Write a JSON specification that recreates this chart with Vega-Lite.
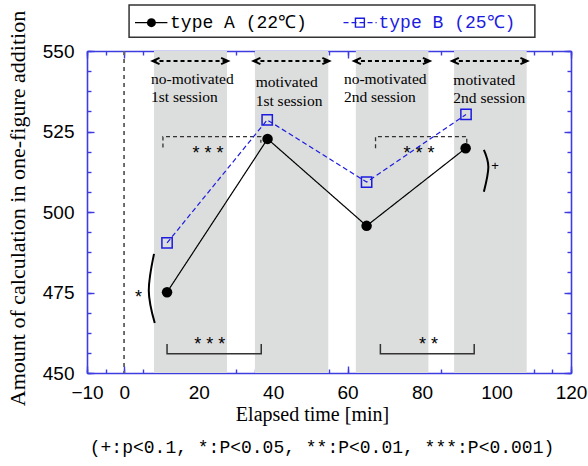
{
  "$schema": "https://vega.github.io/schema/vega-lite/v6.json",
  "width": 484,
  "height": 322,
  "autosize": {"type": "none"},
  "padding": {"left": 87, "top": 51, "right": 17, "bottom": 93},
  "background": "white",
  "config": {
    "view": {"stroke": null},
    "axis": {"grid": false, "zindex": 1, "domainColor": "#3c3ce0", "domainWidth": 1.6, "tickColor": "#3c3ce0", "tickWidth": 1.4}
  },
  "title": {
    "text": "(+:p<0.1, *:P<0.05, **:P<0.01, ***:P<0.001)",
    "orient": "bottom",
    "font": "Liberation Mono",
    "fontSize": 18,
    "fontWeight": "normal",
    "color": "black",
    "anchor": "middle",
    "frame": "group",
    "dx": -7,
    "offset": 15
  },
  "datasets": {
    "bands": [
      {"start": 8.0, "end": 27.6},
      {"start": 35.1, "end": 54.8},
      {"start": 62.2, "end": 81.7},
      {"start": 88.6, "end": 108.1}
    ],
    "sessionLabels": [
      {"x": 7.2, "y": 541.3, "text": "no-motivated"},
      {"x": 7.2, "y": 535.6, "text": "1st session"},
      {"x": 35.3, "y": 540.5, "text": "motivated"},
      {"x": 35.3, "y": 534.6, "text": "1st session"},
      {"x": 59.0, "y": 541.3, "text": "no-motivated"},
      {"x": 59.0, "y": 535.6, "text": "2nd session"},
      {"x": 88.4, "y": 541.0, "text": "motivated"},
      {"x": 88.4, "y": 535.3, "text": "2nd session"}
    ],
    "arrows": [
      {"start": 7.6, "end": 27.9, "y": 546.9},
      {"start": 34.7, "end": 55.1, "y": 546.9},
      {"start": 61.7, "end": 82.1, "y": 546.9},
      {"start": 88.0, "end": 108.3, "y": 546.9}
    ],
    "series": [
      {"series": "A", "t": 11.5, "v": 475.1},
      {"series": "A", "t": 38.5, "v": 522.7},
      {"series": "A", "t": 65.1, "v": 495.7},
      {"series": "A", "t": 91.7, "v": 519.8},
      {"series": "B", "t": 11.5, "v": 490.4},
      {"series": "B", "t": 38.4, "v": 528.6},
      {"series": "B", "t": 65.1, "v": 509.3},
      {"series": "B", "t": 91.8, "v": 530.3}
    ],
    "sigTop": [
      {"g": 1, "o": 1, "x": 10.4, "y": 520.0},
      {"g": 1, "o": 2, "x": 10.4, "y": 523.4},
      {"g": 1, "o": 3, "x": 36.7, "y": 523.4},
      {"g": 1, "o": 4, "x": 36.7, "y": 521.5},
      {"g": 2, "o": 1, "x": 67.5, "y": 519.8},
      {"g": 2, "o": 2, "x": 67.5, "y": 523.4},
      {"g": 2, "o": 3, "x": 92.0, "y": 523.4},
      {"g": 2, "o": 4, "x": 92.0, "y": 521.5}
    ],
    "sigBottom": [
      {"g": 1, "o": 1, "x": 11.5, "y": 459.0},
      {"g": 1, "o": 2, "x": 11.5, "y": 456.0},
      {"g": 1, "o": 3, "x": 36.8, "y": 456.0},
      {"g": 1, "o": 4, "x": 36.8, "y": 459.0},
      {"g": 2, "o": 1, "x": 68.8, "y": 459.0},
      {"g": 2, "o": 2, "x": 68.8, "y": 456.0},
      {"g": 2, "o": 3, "x": 94.0, "y": 456.0},
      {"g": 2, "o": 4, "x": 94.0, "y": 459.0}
    ],
    "arcs": [
      {"g": 1, "o": 1, "x": 8.0, "y": 487.0},
      {"g": 1, "o": 2, "x": 6.6, "y": 475.5},
      {"g": 1, "o": 3, "x": 8.2, "y": 465.5},
      {"g": 2, "o": 1, "x": 96.6, "y": 519.3},
      {"g": 2, "o": 2, "x": 97.8, "y": 514.0},
      {"g": 2, "o": 3, "x": 96.6, "y": 506.3}
    ],
    "sigText": [
      {"x": 22.5, "y": 519.6, "text": "* * *"},
      {"x": 79.2, "y": 519.6, "text": "* * *"},
      {"x": 23.0, "y": 460.2, "text": "* * *"},
      {"x": 81.7, "y": 460.2, "text": "* *"},
      {"x": 3.8, "y": 474.8, "text": "*"}
    ],
    "plusText": [
      {"x": 99.6, "y": 514.3, "text": "+"}
    ],
    "legendBox": [{"x1": 1.3, "x2": 110.3, "y1": 554.3, "y2": 564.3}],
    "legendItems": [
      {"series": "A", "l1": 2.9, "l2": 11.6, "m": 7.3, "tx": 12.3, "y": 558.8, "label": "type A (22℃)"},
      {"series": "B", "l1": 58.9, "l2": 67.8, "m": 63.3, "tx": 68.3, "y": 558.8, "label": "type B (25℃)"}
    ]
  },
  "resolve": {"axis": {"x": "independent", "y": "independent"}},
  "layer": [
    {
      "data": {"name": "bands"},
      "mark": {"type": "rect", "color": "#dcdddd"},
      "encoding": {
        "x": {
          "field": "start", "type": "quantitative",
          "scale": {"domain": [-10, 120], "nice": false, "zero": false},
          "axis": {
            "orient": "bottom", "values": [-10, 0, 20, 40, 60, 80, 100, 120],
            "tickSize": -7, "labelFont": "Liberation Sans", "labelFontSize": 19, "labelColor": "black",
            "labelPadding": 17, "labelFlush": false,
            "title": "Elapsed time [min]", "titleFont": "Liberation Serif", "titleFontSize": 20,
            "titleFontWeight": "normal", "titleColor": "black",
            "titleX": 225, "titleY": 41, "titleBaseline": "middle", "titleAlign": "center"
          }
        },
        "x2": {"field": "end"},
        "y": {
          "datum": 450, "type": "quantitative",
          "scale": {"domain": [450, 550], "nice": false, "zero": false},
          "axis": {
            "orient": "left", "values": [450, 475, 500, 525, 550],
            "tickSize": -7, "labelFont": "Liberation Sans", "labelFontSize": 19, "labelColor": "black",
            "labelPadding": 20, "labelFlush": false,
            "title": "Amount of calculation in one-figure addition", "titleFont": "Liberation Serif",
            "titleFontSize": 22, "titleFontWeight": "normal", "titleColor": "black",
            "titleX": -70, "titleY": 157, "titleBaseline": "middle", "titleAlign": "center", "titleAngle": -90
          }
        },
        "y2": {"datum": 550}
      }
    },
    {
      "data": {"name": "bands"},
      "mark": {"type": "rule", "color": "#666666", "strokeDash": [4, 4], "strokeWidth": 1.3},
      "encoding": {
        "x": {"datum": 0, "type": "quantitative", "axis": null}
      }
    },
    {
      "data": {"name": "arrows"},
      "mark": {"type": "rule", "color": "black", "strokeDash": [4, 3], "strokeWidth": 2},
      "encoding": {
        "x": {"field": "start", "type": "quantitative", "axis": null},
        "x2": {"field": "end"},
        "y": {"field": "y", "type": "quantitative", "axis": null}
      }
    },
    {
      "data": {"name": "arrows"},
      "mark": {"type": "point", "shape": "M2,-0.9L0,0L2,0.9", "filled": false, "color": "black", "strokeWidth": 2, "size": 49, "opacity": 1},
      "encoding": {
        "x": {"field": "start", "type": "quantitative", "axis": null},
        "y": {"field": "y", "type": "quantitative", "axis": null}
      }
    },
    {
      "data": {"name": "arrows"},
      "mark": {"type": "point", "shape": "M-2,-0.9L0,0L-2,0.9", "filled": false, "color": "black", "strokeWidth": 2, "size": 49, "opacity": 1},
      "encoding": {
        "x": {"field": "end", "type": "quantitative", "axis": null},
        "y": {"field": "y", "type": "quantitative", "axis": null}
      }
    },
    {
      "data": {"name": "sessionLabels"},
      "mark": {"type": "text", "font": "Liberation Serif", "fontSize": 15.5, "align": "left", "baseline": "middle", "color": "black"},
      "encoding": {
        "x": {"field": "x", "type": "quantitative", "axis": null},
        "y": {"field": "y", "type": "quantitative", "axis": null},
        "text": {"field": "text"}
      }
    },
    {
      "data": {"name": "sigTop"},
      "mark": {"type": "line", "color": "#333333", "strokeDash": [4, 3], "strokeWidth": 1.3},
      "encoding": {
        "x": {"field": "x", "type": "quantitative", "axis": null},
        "y": {"field": "y", "type": "quantitative", "axis": null},
        "detail": {"field": "g"},
        "order": {"field": "o"}
      }
    },
    {
      "data": {"name": "sigBottom"},
      "mark": {"type": "line", "color": "#333333", "strokeWidth": 1.5},
      "encoding": {
        "x": {"field": "x", "type": "quantitative", "axis": null},
        "y": {"field": "y", "type": "quantitative", "axis": null},
        "detail": {"field": "g"},
        "order": {"field": "o"}
      }
    },
    {
      "data": {"name": "arcs"},
      "mark": {"type": "line", "color": "black", "strokeWidth": 2, "interpolate": "natural"},
      "encoding": {
        "x": {"field": "x", "type": "quantitative", "axis": null},
        "y": {"field": "y", "type": "quantitative", "axis": null},
        "detail": {"field": "g"},
        "order": {"field": "o"}
      }
    },
    {
      "data": {"name": "sigText"},
      "mark": {"type": "text", "font": "Liberation Sans", "fontSize": 18, "align": "center", "baseline": "middle", "dy": 5, "color": "black"},
      "encoding": {
        "x": {"field": "x", "type": "quantitative", "axis": null},
        "y": {"field": "y", "type": "quantitative", "axis": null},
        "text": {"field": "text"}
      }
    },
    {
      "data": {"name": "plusText"},
      "mark": {"type": "text", "font": "Liberation Sans", "fontSize": 13, "align": "center", "baseline": "middle", "color": "black"},
      "encoding": {
        "x": {"field": "x", "type": "quantitative", "axis": null},
        "y": {"field": "y", "type": "quantitative", "axis": null},
        "text": {"field": "text"}
      }
    },
    {
      "data": {"name": "series"},
      "mark": {"type": "line", "strokeWidth": 1.2},
      "encoding": {
        "x": {
          "field": "t", "type": "quantitative",
          "axis": {"orient": "bottom", "values": [-10, -5, 0, 5, 10, 15, 20, 25, 30, 35, 40, 45, 50, 55, 60, 65, 70, 75, 80, 85, 90, 95, 100, 105, 110, 115, 120], "tickSize": -4, "labels": false, "domain": false, "title": null}
        },
        "y": {
          "field": "v", "type": "quantitative",
          "axis": {"orient": "left", "values": [450, 456.25, 462.5, 468.75, 475, 481.25, 487.5, 493.75, 500, 506.25, 512.5, 518.75, 525, 531.25, 537.5, 543.75, 550], "tickSize": -4, "labels": false, "domain": false, "title": null}
        },
        "color": {"field": "series", "type": "nominal", "scale": {"domain": ["A", "B"], "range": ["black", "#1c1ce0"]}, "legend": null},
        "strokeDash": {"field": "series", "type": "nominal", "scale": {"domain": ["A", "B"], "range": [[1, 0], [5, 3]]}, "legend": null}
      }
    },
    {
      "data": {"name": "series"},
      "transform": [{"filter": "datum.series == 'B'"}],
      "mark": {"type": "point", "shape": "square", "filled": false, "color": "#1c1ce0", "strokeWidth": 1.5, "size": 106, "opacity": 1},
      "encoding": {
        "x": {
          "field": "t", "type": "quantitative",
          "axis": {"orient": "top", "values": [-10, 0, 20, 40, 60, 80, 100, 120], "tickSize": -7, "labels": false, "title": null}
        },
        "y": {
          "field": "v", "type": "quantitative",
          "axis": {"orient": "right", "values": [450, 475, 500, 525, 550], "tickSize": -7, "labels": false, "title": null}
        }
      }
    },
    {
      "data": {"name": "series"},
      "transform": [{"filter": "datum.series == 'A'"}],
      "mark": {"type": "point", "shape": "circle", "filled": true, "color": "black", "size": 110, "opacity": 1},
      "encoding": {
        "x": {
          "field": "t", "type": "quantitative",
          "axis": {"orient": "top", "values": [-10, -5, 0, 5, 10, 15, 20, 25, 30, 35, 40, 45, 50, 55, 60, 65, 70, 75, 80, 85, 90, 95, 100, 105, 110, 115, 120], "tickSize": -4, "labels": false, "domain": false, "title": null}
        },
        "y": {
          "field": "v", "type": "quantitative",
          "axis": {"orient": "right", "values": [450, 456.25, 462.5, 468.75, 475, 481.25, 487.5, 493.75, 500, 506.25, 512.5, 518.75, 525, 531.25, 537.5, 543.75, 550], "tickSize": -4, "labels": false, "domain": false, "title": null}
        }
      }
    },
    {
      "data": {"name": "legendBox"},
      "mark": {"type": "rect", "fill": "white", "stroke": "#333333", "strokeWidth": 1.5},
      "encoding": {
        "x": {"field": "x1", "type": "quantitative", "axis": null},
        "x2": {"field": "x2"},
        "y": {"field": "y1", "type": "quantitative", "axis": null},
        "y2": {"field": "y2"}
      }
    },
    {
      "data": {"name": "legendItems"},
      "mark": {"type": "rule", "strokeWidth": 1.3},
      "encoding": {
        "x": {"field": "l1", "type": "quantitative", "axis": null},
        "x2": {"field": "l2"},
        "y": {"field": "y", "type": "quantitative", "axis": null},
        "color": {"field": "series", "type": "nominal", "scale": {"domain": ["A", "B"], "range": ["black", "#1c1ce0"]}, "legend": null},
        "strokeDash": {"field": "series", "type": "nominal", "scale": {"domain": ["A", "B"], "range": [[1, 0], [3, 3]]}, "legend": null}
      }
    },
    {
      "data": {"name": "legendItems"},
      "transform": [{"filter": "datum.series == 'A'"}],
      "mark": {"type": "point", "shape": "circle", "filled": true, "color": "black", "size": 80, "opacity": 1},
      "encoding": {
        "x": {"field": "m", "type": "quantitative", "axis": null},
        "y": {"field": "y", "type": "quantitative", "axis": null}
      }
    },
    {
      "data": {"name": "legendItems"},
      "transform": [{"filter": "datum.series == 'B'"}],
      "mark": {"type": "point", "shape": "square", "filled": false, "color": "#1c1ce0", "strokeWidth": 1.4, "size": 80, "opacity": 1},
      "encoding": {
        "x": {"field": "m", "type": "quantitative", "axis": null},
        "y": {"field": "y", "type": "quantitative", "axis": null}
      }
    },
    {
      "data": {"name": "legendItems"},
      "mark": {"type": "text", "font": "Liberation Mono", "fontSize": 18, "align": "left", "baseline": "middle"},
      "encoding": {
        "x": {"field": "tx", "type": "quantitative", "axis": null},
        "y": {"field": "y", "type": "quantitative", "axis": null},
        "text": {"field": "label"},
        "color": {"field": "series", "type": "nominal", "scale": {"domain": ["A", "B"], "range": ["black", "#1c1ce0"]}, "legend": null}
      }
    }
  ]
}
